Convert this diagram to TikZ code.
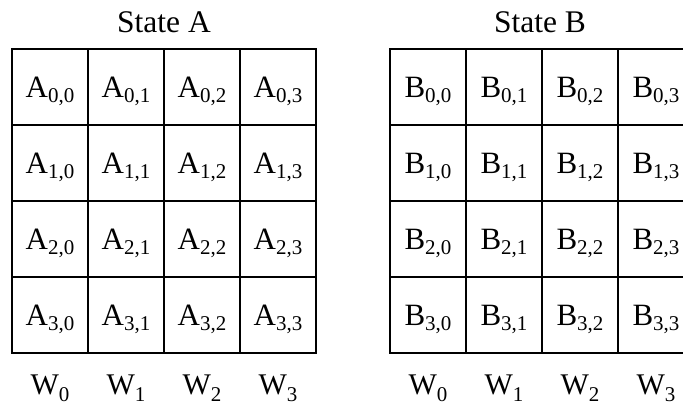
\documentclass[tikz,border=0pt]{standalone}
\usepackage{fontspec}
\setmainfont{Liberation Serif}
\newcommand\subx[1]{\raisebox{-5pt}{\fontsize{21}{21}\selectfont #1}}
\newcommand\subw[1]{\raisebox{-7pt}{\fontsize{21}{21}\selectfont #1}}
\begin{document}
\begin{tikzpicture}[x=1pt,y=-1pt,
  cell/.style={draw, line width=1.4pt, minimum size=76pt, inner sep=0pt,
    text height=20pt, text depth=0pt, font=\fontsize{31}{31}\selectfont},
  ttl/.style={anchor=base, inner sep=0pt, font=\fontsize{31.5}{31.5}\selectfont},
  wlab/.style={anchor=base, inner sep=0pt, font=\fontsize{30}{30}\selectfont}]
\useasboundingbox (0,0) rectangle (683,410);
\clip (0,0) rectangle (683,410);
\foreach \r in {0,...,3} {
  \foreach \c in {0,...,3} {
    \node[cell] (a\r\c) at ({50+76*\c},{87+76*\r}) {A\subx{\r,\c}};
    \node[cell] (b\r\c) at ({428+76*\c},{87+76*\r}) {B\subx{\r,\c}};
  }
}
\node[ttl] (ta) at (164,32) {State A};
\node[ttl] (tb) at (540,32) {State B};
\foreach \c in {0,...,3} {
  \node[wlab] (wa\c) at ({50+76*\c},394) {W\subw{\c}};
  \node[wlab] (wb\c) at ({428+76*\c},394) {W\subw{\c}};
}
\end{tikzpicture}
\end{document}
